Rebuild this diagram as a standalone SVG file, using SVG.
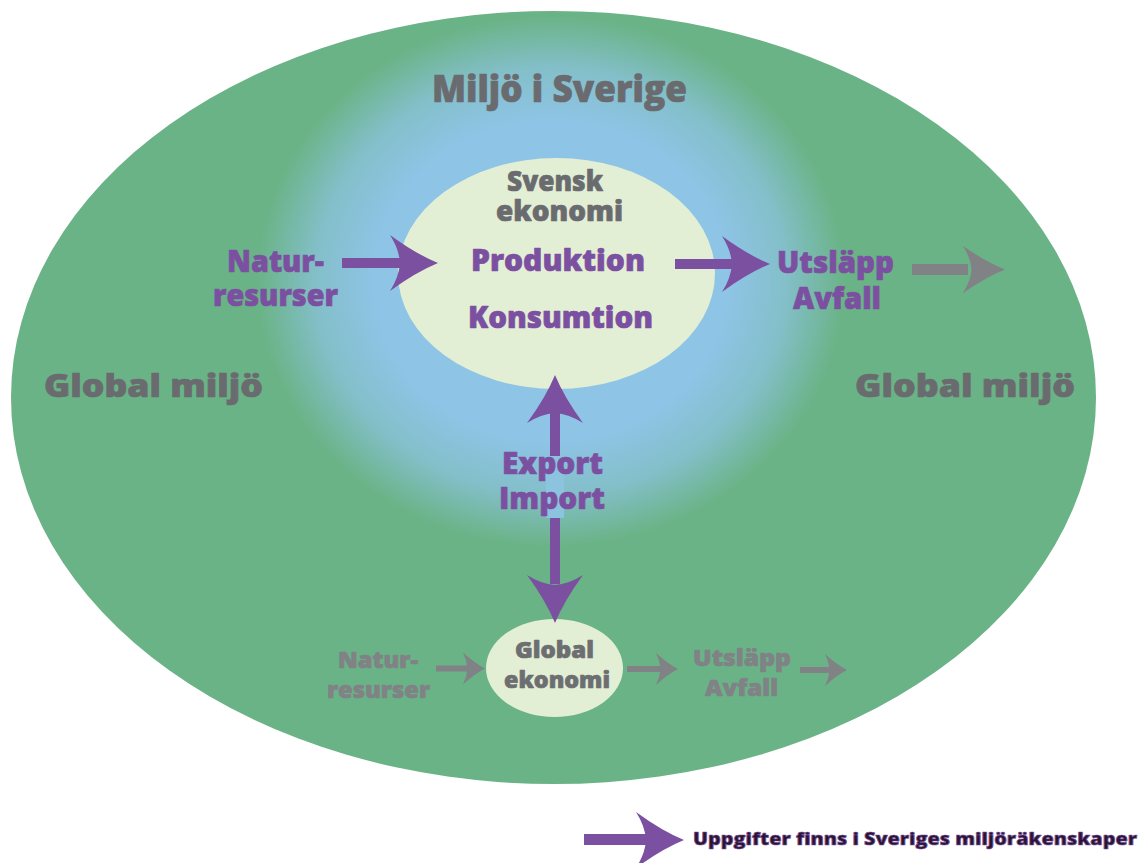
<svg xmlns="http://www.w3.org/2000/svg" xmlns:xlink="http://www.w3.org/1999/xlink" width="1146" height="863" viewBox="0 0 1146 863">
<defs>
<radialGradient id="glow" cx="0.5" cy="0.5" r="0.5">
<stop offset="0" stop-color="#8ec4e6" stop-opacity="1"/>
<stop offset="0.6" stop-color="#8ec4e6" stop-opacity="1"/>
<stop offset="0.8" stop-color="#8ec4e6" stop-opacity="0.7"/>
<stop offset="1" stop-color="#8ec4e6" stop-opacity="0"/>
</radialGradient>
<path id="head" d="M0,0 Q-22,-9 -48,-28 Q-39,-14 -38,0 Q-39,14 -48,28 Q-22,9 0,0 Z"/>
<style>
.t{font-family:"Open Sans","Noto Sans","Liberation Sans",sans-serif;font-weight:800;text-anchor:middle;stroke-width:0.7;stroke-linejoin:round}
.gray{fill:#6a6b6f;stroke:#6a6b6f}
.purple{fill:#7c50a1;stroke:#7c50a1}
.lgray{fill:#808285;stroke:#808285}
.dgray{fill:#6d6e71;stroke:#6d6e71}
.pf{fill:#7c50a1}
.gf{fill:#808285}
</style>
</defs>
<rect x="0" y="0" width="1146" height="863" fill="#ffffff"/>
<g id="global-miljo">
<ellipse cx="553.5" cy="397.5" rx="542.5" ry="386.5" fill="#6ab386"/>
<text class="t gray" x="153.5" y="396.5" font-size="32" textLength="219" lengthAdjust="spacingAndGlyphs">Global miljö</text>
<text class="t gray" x="965" y="396.5" font-size="32" textLength="220" lengthAdjust="spacingAndGlyphs">Global miljö</text>
</g>
<g id="miljo-sverige">
<ellipse cx="551" cy="281" rx="294" ry="266" fill="url(#glow)"/>
<text class="t gray" x="559.5" y="101.5" font-size="37" textLength="255" lengthAdjust="spacingAndGlyphs">Miljö i Sverige</text>
</g>
<g id="svensk-ekonomi">
<ellipse cx="556.5" cy="273.5" rx="158.5" ry="115.5" fill="#e3efd5"/>
<text class="t gray" x="555" y="191" font-size="29" textLength="96" lengthAdjust="spacingAndGlyphs">Svensk</text>
<text class="t gray" x="559.5" y="221" font-size="29" textLength="127" lengthAdjust="spacingAndGlyphs">ekonomi</text>
<text class="t purple" x="558" y="271" font-size="30" textLength="174" lengthAdjust="spacingAndGlyphs">Produktion</text>
<text class="t purple" x="560.5" y="328" font-size="30" textLength="185" lengthAdjust="spacingAndGlyphs">Konsumtion</text>
</g>
<g id="naturresurser">
<text class="t purple" x="275.5" y="272" font-size="30" textLength="97" lengthAdjust="spacingAndGlyphs">Natur-</text>
<text class="t purple" x="275.5" y="306" font-size="30" textLength="125" lengthAdjust="spacingAndGlyphs">resurser</text>
</g>
<g id="utslapp-avfall">
<text class="t purple" x="835.5" y="273" font-size="30" textLength="117" lengthAdjust="spacingAndGlyphs">Utsläpp</text>
<text class="t purple" x="837" y="309" font-size="30" textLength="88" lengthAdjust="spacingAndGlyphs">Avfall</text>
</g>
<g id="global-ekonomi">
<ellipse cx="554.5" cy="668" rx="68.5" ry="49" fill="#e3efd5"/>
<text class="t dgray" x="554.5" y="658" font-size="23" textLength="79" lengthAdjust="spacingAndGlyphs">Global</text>
<text class="t dgray" x="557" y="688" font-size="23" textLength="106" lengthAdjust="spacingAndGlyphs">ekonomi</text>
</g>
<g id="global-naturresurser">
<text class="t lgray" x="378" y="668" font-size="23" textLength="80" lengthAdjust="spacingAndGlyphs">Natur-</text>
<text class="t lgray" x="378.5" y="698" font-size="23" textLength="103" lengthAdjust="spacingAndGlyphs">resurser</text>
</g>
<g id="global-utslapp">
<text class="t lgray" x="742" y="666" font-size="23" textLength="98" lengthAdjust="spacingAndGlyphs">Utsläpp</text>
<text class="t lgray" x="741.5" y="696" font-size="23" textLength="73" lengthAdjust="spacingAndGlyphs">Avfall</text>
</g>
<g id="connectors">
<rect class="pf" x="342" y="258" width="62" height="10"/>
<use xlink:href="#head" class="pf" transform="translate(438,263)"/>
<rect class="pf" x="675" y="259" width="62" height="10"/>
<use xlink:href="#head" class="pf" transform="translate(770,264)"/>
<rect class="gf" x="912" y="264" width="56" height="11"/>
<use xlink:href="#head" class="gf" transform="translate(1005,269.5) scale(0.88,0.85)"/>
<rect class="pf" x="550" y="412" width="10" height="172"/>
<rect x="546" y="456" width="18" height="62" fill="#8cc3df"/>
<use xlink:href="#head" class="pf" transform="translate(555,375) rotate(-90)"/>
<use xlink:href="#head" class="pf" transform="translate(555,623) rotate(90)"/>
<rect class="gf" x="436" y="665.5" width="36" height="6"/>
<use xlink:href="#head" class="gf" transform="translate(485,668.5) scale(0.46,0.57)"/>
<rect class="gf" x="627" y="666" width="35" height="6"/>
<use xlink:href="#head" class="gf" transform="translate(678,669) scale(0.46,0.57)"/>
<rect class="gf" x="800" y="667" width="33" height="6"/>
<use xlink:href="#head" class="gf" transform="translate(847,670) scale(0.46,0.57)"/>
</g>
<g id="export-import">
<text class="t purple" x="552.5" y="474" font-size="30" textLength="101" lengthAdjust="spacingAndGlyphs">Export</text>
<text class="t purple" x="552" y="509" font-size="30" textLength="106" lengthAdjust="spacingAndGlyphs">Import</text>
</g>
<g id="legend">
<rect class="pf" x="584" y="834" width="62" height="11"/>
<use xlink:href="#head" class="pf" transform="translate(684,840)"/>
<text class="t" fill="#2a1530" stroke="#7c50a1" stroke-width="0.6" x="915" y="845" font-size="17" textLength="444" lengthAdjust="spacingAndGlyphs">Uppgifter finns i Sveriges miljöräkenskaper</text>
</g>
</svg>
